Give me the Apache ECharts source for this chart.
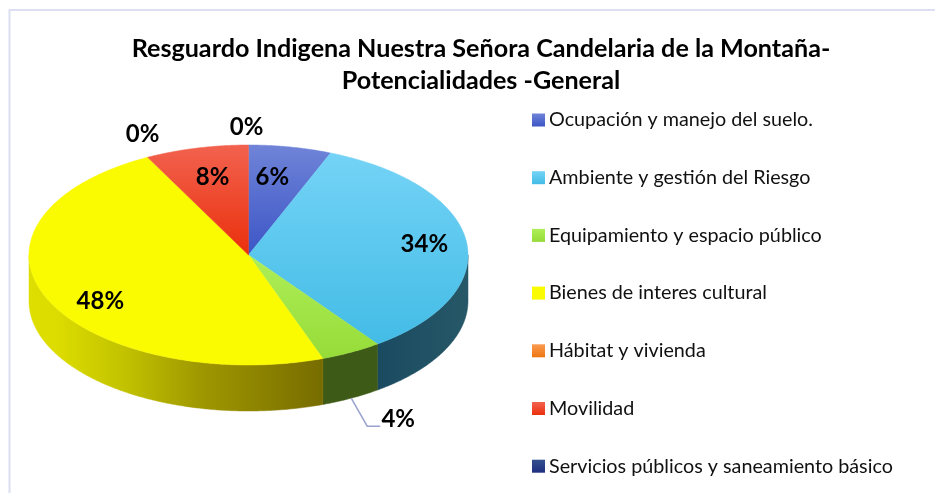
<!DOCTYPE html>
<html>
<head>
<meta charset="utf-8">
<title>Potencialidades</title>
<style>
  html, body { margin: 0; padding: 0; background: #fff; }
  #chart { width: 935px; height: 493px; }
</style>
<script src="https://cdn.jsdelivr.net/npm/echarts@6/dist/echarts.min.js"></script>
</head>
<body>
<div id="chart"></div>
<script>
// datos (% aproximado de cada porcion)
var categories = [
  'Ocupación y manejo del suelo.',
  'Ambiente y gestión del Riesgo',
  'Equipamiento y espacio público',
  'Bienes de interes cultural',
  'Hábitat y vivienda',
  'Movilidad',
  'Servicios públicos y saneamiento básico'
];
var values = [6.1, 33.9, 4.5, 47.9, 0, 7.6, 0];
var labels = ['6%', '34%', '4%', '48%', '0%', '8%', '0%'];

// colores: arriba y abajo de cada porcion
var topColors = ['#6f84d8', '#74d3f6', '#aeee58', '#fafa00', '#fb9a50', '#f2624f', '#34508f'];
var bottomColors = ['#3d55c6', '#43bce6', '#96dc38', '#fafa00', '#ee7610', '#ea300c', '#1f2f80'];
var wallStops = [
  [[0, '#1c3a8c'], [1, '#1c3a8c']],
  [[0, '#1a4a60'], [1, '#265868']],
  [[0, '#3e5a17'], [1, '#3e5a17']],
  [[0, '#dede00'], [0.1, '#dcdc00'], [0.34, '#c0c000'], [0.58, '#a09800'], [1, '#776c00']],
  [[0, '#8a4a10'], [1, '#8a4a10']],
  [[0, '#8a2a10'], [1, '#8a2a10']],
  [[0, '#1f2f80'], [1, '#1f2f80']]
];

// geometria de la elipse y ajuste de etiquetas respecto al borde
var CX = 248.5, CY = 255, RX = 219.5, RY = 110, DEPTH = 46;
var labelNudge = [[-18, 30], [-42, 3], [47, 67], [53, 2], [-5, -23], [16, 29], [-2, -18]];

var total = values.reduce(function (a, b) { return a + b; }, 0);

function rim(deg, dy) {
  var r = deg * Math.PI / 180;
  return [CX + RX * Math.sin(r), CY - RY * Math.cos(r) + (dy || 0)];
}

function arcPoints(from, to, dy) {
  var pts = [], n = Math.max(2, Math.ceil(Math.abs(to - from) * 2));
  for (var i = 0; i <= n; i++) {
    pts.push(rim(from + (to - from) * i / n, dy));
  }
  return pts;
}

function vGradient(idx) {
  return {
    type: 'linear', x: 0, y: 0, x2: 0, y2: 1,
    colorStops: [{ offset: 0, color: topColors[idx] }, { offset: 1, color: bottomColors[idx] }]
  };
}

function hGradient(idx) {
  return {
    type: 'linear', x: 0, y: 0, x2: 1, y2: 0,
    colorStops: wallStops[idx].map(function (s) {
      return { offset: s[0], color: s[1] };
    })
  };
}

function renderSlice(idx) {
  return function (params, api) {
    var before = 0;
    for (var i = 0; i < idx; i++) before += values[i];
    var start = before / total * 360;
    var end = start + api.value(0) / total * 360;
    var mid = (start + end) / 2;
    var children = [];

    if (end > start) {
      // pared lateral: solo la parte frontal de la elipse (90 a 270 grados)
      var a = Math.max(start, 90), b = Math.min(end, 270);
      if (b > a) {
        var front = arcPoints(a, b, 0);
        var back = arcPoints(b, a, DEPTH);
        children.push({
          type: 'polygon',
          shape: { points: front.concat(back) },
          style: { fill: hGradient(idx), stroke: hGradient(idx), lineWidth: 0.5 }
        });
      }
      // cara superior
      children.push({
        type: 'polygon',
        shape: { points: [[CX, CY]].concat(arcPoints(start, end, 0)) },
        style: { fill: vGradient(idx), stroke: vGradient(idx), lineWidth: 0.5 }
      });
    }

    var p = rim(mid, 0);
    var lx = p[0] + labelNudge[idx][0], ly = p[1] + labelNudge[idx][1];
    // linea guia de la etiqueta que queda fuera (4%)
    if (idx === 2) {
      var w = rim(mid, DEPTH);
      children.push({
        type: 'polyline',
        shape: { points: [w, [w[0] + 16, ly + 7], [w[0] + 29, ly + 7]] },
        style: { fill: 'none', stroke: '#9aa3cf', lineWidth: 1.5 }
      });
    }
    children.push({
      type: 'text',
      z2: 20,
      style: {
        text: labels[idx], x: lx, y: ly,
        fill: '#000', align: 'center', verticalAlign: 'middle',
        font: 'bold 24px Lato, sans-serif'
      }
    });
    return { type: 'group', children: children };
  };
}

var series = categories.map(function (name, i) {
  return {
    name: name,
    type: 'custom',
    coordinateSystem: 'none',
    silent: true,
    animation: false,
    itemStyle: { color: vGradient(i) },
    data: [[values[i]]],
    renderItem: renderSlice(i)
  };
});

var chart = echarts.init(document.getElementById('chart'));
chart.setOption({
  backgroundColor: '#fff',
  animation: false,
  title: {
    text: 'Resguardo Indigena Nuestra Señora Candelaria de la Montaña-\nPotencialidades -General',
    left: 476,
    top: 28,
    textAlign: 'center',
    textStyle: { fontFamily: 'Lato', fontWeight: 'bold', fontSize: 25.15, lineHeight: 32, color: '#000' }
  },
  legend: {
    orient: 'vertical',
    left: 527,
    top: 105,
    itemWidth: 13,
    itemHeight: 13,
    itemGap: 37.7,
    icon: 'rect',
    selectedMode: false,
    data: categories,
    textStyle: { fontFamily: 'Lato', fontSize: 19.75, color: '#111', padding: [0, 0, 0, -1] }
  },
  graphic: [
    // marco del grafico
    { type: 'polyline', silent: true, shape: { points: [[9.5, 493], [9.5, 10], [935, 10]] }, style: { fill: 'none', stroke: '#dcdff2', lineWidth: 2 } }
  ],
  series: series
});
</script>
</body>
</html>
